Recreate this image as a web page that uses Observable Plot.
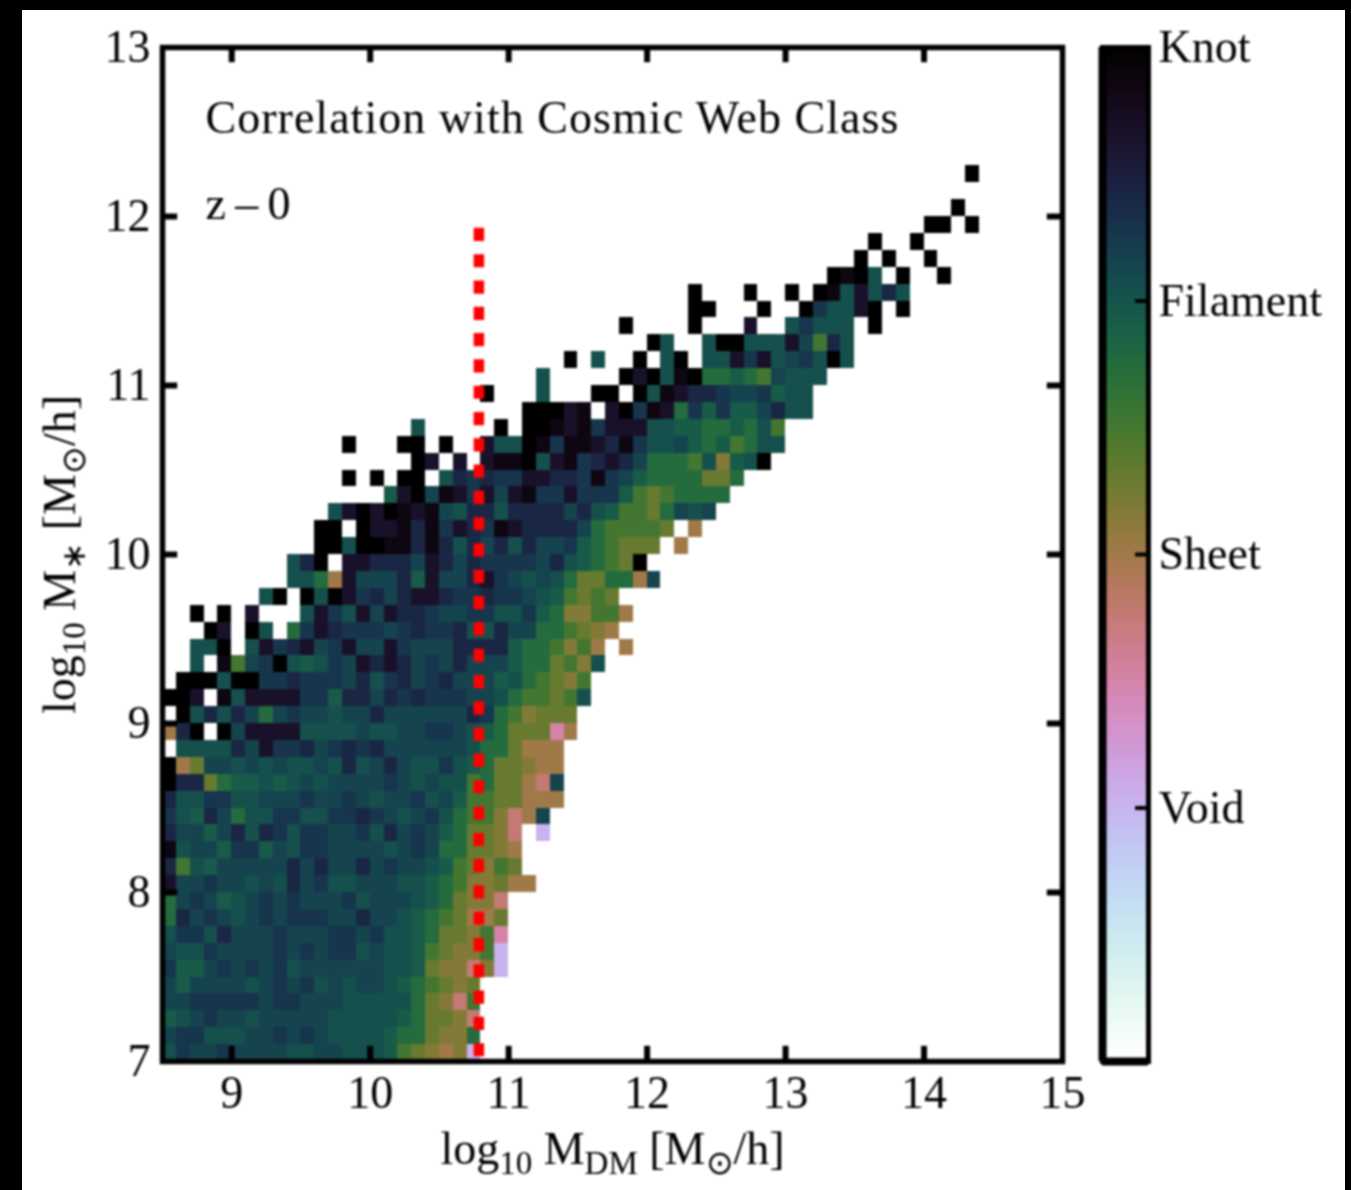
<!DOCTYPE html>
<html>
<head>
<meta charset="utf-8">
<script src="https://cdn.jsdelivr.net/npm/d3@7"></script>
<script src="https://cdn.jsdelivr.net/npm/@observablehq/plot@0.6"></script>
<style>
html,body{margin:0;padding:0;background:#000;width:1351px;height:1190px;overflow:hidden}
#panel{position:absolute;left:22px;top:10px;width:1323px;height:1180px;background:#fff}
#chart{position:absolute;left:0;top:0;width:1351px;height:1190px;filter:blur(0.8px)}
#chart svg{position:absolute;top:0;overflow:visible}
</style>
</head>
<body>
<div id="panel"></div>
<div id="chart"></div>
<script>
// Cosmic web class read per 0.1 dex bin. One string per log M* row (7.0 upward);
// rowStart is the first log M_DM bin of the row, counted from 8.5.
const codeValue = {"0":3,"1":2.85,"2":2.65,"3":2.4,"4":2.27,"5":2.14,"6":2.03,"7":1.92,"8":1.74,"9":1.5,a:1.3,b:1.15,c:1,d:.75,e:.5,f:0};
const rowStart = [0,0,0,0,0,0,0,0,0,0,0,0,0,0,0,0,0,0,1,0,1,0,1,2,2,3,2,7,9,9,11,11,12,16,13,18,13,18,26,23,27,29,35,33,38,38,48,50,51,55,57,0,58];
const rowCells = [
"645545555665566679abcbf",
"5446665545456666788abb8",
"7654556555556666678aabd",
"5544444544555666668abd9",
"57555565454656556789aba",
"4775454546555555667abbdbf",
"56645555454544656679abb9f",
"64463555455544546678aab9e",
"835456545444553556789acca",
"854576545455546555678abbd",
"2554556563546655566789bbacc",
"3967555553535535455679ab9a",
"1655744756445555654588aabc",
"3557536346445546354578aabd.f",
"467358664466443456546899bdc5",
"366446655545545655465799aaccc",
"033a87767656555545656698aacd5",
"0ca556565665636535664678aabcc",
"666635244354343555555688accc",
"c30.052222666656655445678aaaec",
"0636358545565535555553489baaa",
"002.162222447335343444556899a96",
"000600443444536435435557689ab9",
"6.195406764523235453555788a9b6",
"660.62432542552455533337889b9c.c",
"02.06.842344454344366355889abc",
"0.0.2...6246252334554466478bb99c",
"60.06024353223443445679a9a",
"668c25553725532456568aa88c5",
"630.22333523534444536789a0",
"0060011313635363554789aaa.c",
"00.0221314234123333589999a.c",
"62020121563363333536799a8565",
"7205124252144244479a98888",
"0.0.00.6343442233414578888aa8",
"02.2.21106214323588896b760",
"0...00.0..2660141123146657879866",
"6.....0.0012142226677887869",
"00021.204128474775366",
"0...6...00.0612334554766",
"6.....020610887895666",
"0.6..0.60.66242654606",
"06..60066625936",
"0....0...2..64666.0",
"00...0..046620.0",
"0...0..0.0162636",
"0106.0..0",
"0.0..0",
"0..0",
"00.0",
"0",
"",
"0"
];
const xTicks = [9,10,11,12,13,14,15];
const yTicks = [7,8,9,10,11,12,13];
const xInnerTicks = [9,10,11,12,13,14];
const yInnerTicks = [8,9,10,11,12];
const classNames = {0:"Void",1:"Sheet",2:"Filament",3:"Knot"};
const haloLimit = [10.785];
const titleText = ["Correlation with Cosmic Web Class"];
const redshiftText = ["z – 0"];
const xLabelRuns = [["log",0],["10",1],[" M",0],["DM",1],[" [M",0],["⊙",1],["/h]",0]];
const yLabelRuns = [["log",0],["10",1],[" M",0],["∗",1],[" [M",0],["⊙",1],["/h]",0]];

const cells = rowCells.flatMap((s, r) => [...s].flatMap((c, i) =>
  c === "." ? [] : [{x: 8.5 + 0.1 * (rowStart[r] + i), y: 7 + 0.1 * r, v: codeValue[c]}]));

const font = "'Liberation Serif', serif";
const colorScale = {type: "linear", domain: [-1, 3], interpolate: t => d3.interpolateCubehelixDefault(1 - t)};
const join = runs => runs.map(r => r[0]).join("");

const main = Plot.plot({
  width: 1351, height: 1190,
  marginLeft: 162, marginRight: 289, marginTop: 47, marginBottom: 129,
  x: {domain: [8.5, 15]},
  y: {domain: [7, 13]},
  color: colorScale,
  style: {fontFamily: font, background: "transparent", color: "#000"},
  marks: [
    Plot.rect(cells, {x1: "x", x2: d => d.x + 0.1, y1: "y", y2: d => d.y + 0.1, fill: "v", shapeRendering: "crispEdges"}),
    Plot.ruleX(haloLimit, {y1: 11.93, y2: 7, stroke: "#ff0000", strokeWidth: 10.5, strokeDasharray: "13.2,13.1"}),
    Plot.ruleX(xInnerTicks, {y1: 7, y2: 7.09, stroke: "#000", strokeWidth: 6}),
    Plot.ruleX(xInnerTicks, {y1: 13, y2: 12.91, stroke: "#000", strokeWidth: 6}),
    Plot.ruleY(yInnerTicks, {x1: 8.5, x2: 8.61, stroke: "#000", strokeWidth: 6}),
    Plot.ruleY(yInnerTicks, {x1: 15, x2: 14.89, stroke: "#000", strokeWidth: 6}),
    Plot.frame({stroke: "#000", strokeWidth: 5.5}),
    Plot.axisX({anchor: "bottom", ticks: xTicks, tickSize: 0, tickPadding: 14, fontSize: 46, tickFormat: "d",
      label: join(xLabelRuns), labelAnchor: "center", labelOffset: 102, labelArrow: "none"}),
    Plot.axisY({anchor: "left", ticks: yTicks, tickSize: 0, tickPadding: 12, fontSize: 46, tickFormat: "d",
      label: join(yLabelRuns), labelAnchor: "center", labelOffset: 120, labelArrow: "none"}),
    Plot.text(titleText, {x: 8.81, y: 12.58, textAnchor: "start", fontSize: 46, fill: "#000"}),
    Plot.text(redshiftText, {x: 8.81, y: 12.07, textAnchor: "start", fontSize: 46, fill: "#000"})
  ]
});

const barLevels = d3.range(-1, 3, 0.02);
const bar = Plot.plot({
  width: 253, height: 1190,
  marginLeft: 4, marginRight: 203, marginTop: 47, marginBottom: 129,
  x: {domain: [0, 1], axis: null},
  y: {domain: [-1, 3]},
  color: colorScale,
  style: {fontFamily: font, background: "transparent", color: "#000"},
  marks: [
    Plot.rect(barLevels, {x1: 0, x2: 1, y1: d => d, y2: d => d + 0.02, fill: d => d, shapeRendering: "crispEdges"}),
    Plot.ruleY([0, 1, 2], {x1: 0.72, x2: 1, stroke: "#000", strokeWidth: 4}),
    Plot.frame({stroke: "#000", strokeWidth: 5}),
    Plot.ruleX([0], {stroke: "#000", strokeWidth: 8}),
    Plot.ruleY([-1], {stroke: "#000", strokeWidth: 8}),
    Plot.axisY({anchor: "right", ticks: [0, 1, 2, 3], tickSize: 0, tickPadding: 10, fontSize: 46,
      tickFormat: d => classNames[d], label: null})
  ]
});
bar.style.left = "1098px";
main.style.left = "0px";

// Typeset the subscripts of the two axis titles as tspans.
function typeset(svg, runs) {
  const whole = join(runs);
  for (const t of svg.querySelectorAll("text")) {
    if (t.textContent !== whole) continue;
    const host = t.querySelector("tspan") || t;
    host.textContent = "";
    let shift = 0;
    for (const [s, sub] of runs) {
      const span = document.createElementNS("http://www.w3.org/2000/svg", "tspan");
      span.textContent = s;
      span.setAttribute("xml:space", "preserve");
      span.setAttribute("font-size", sub ? 33 : 46);
      const want = sub ? 10 : 0;
      span.setAttribute("dy", want - shift);
      shift = want;
      host.appendChild(span);
    }
    host.setAttribute("style", "white-space:pre");
  }
}
typeset(main, xLabelRuns);
typeset(main, yLabelRuns);
for (const t of main.querySelectorAll("text")) {
  if (t.textContent === titleText[0]) t.setAttribute("textLength", 693);
  if (t.textContent === redshiftText[0]) t.setAttribute("textLength", 85);
}
const host = document.getElementById("chart");
host.appendChild(main);
host.appendChild(bar);
</script>
</body>
</html>
